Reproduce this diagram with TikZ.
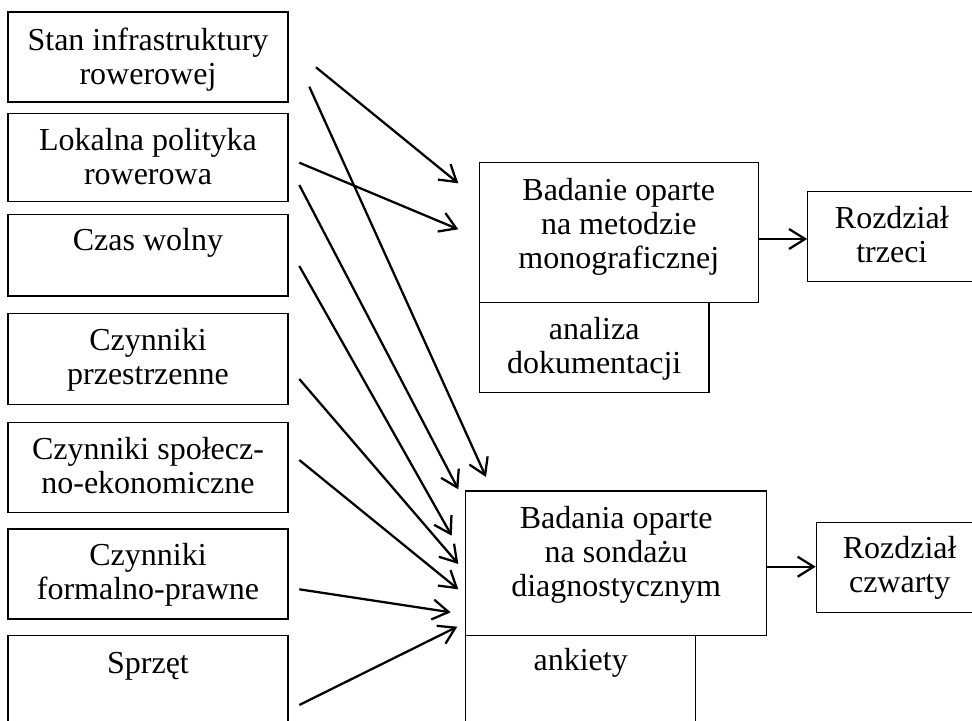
\documentclass[tikz,border=0pt]{standalone}
\usepackage{fontspec}
\setmainfont{Liberation Serif}
\usetikzlibrary{arrows.meta,fit}
\begin{document}
\begin{tikzpicture}[x=0.75pt,y=-0.75pt,
  bx/.style={draw, line width=0.8pt, inner sep=0pt},
  txt/.style={anchor=north, inner sep=0pt, align=center, font=\fontsize{24}{25.5}\selectfont},
  arr/.style={line width=1.7pt, -{Straight Barb[length=12pt,width=15pt]}}]
\useasboundingbox (0,0) rectangle (972,721);
\clip (0,0) rectangle (972,721);
% left boxes
\node[bx, fit={(8,12) (288,102)}] (s1) {};
\node[bx, fit={(8,113.7) (288,201.7)}] (s2) {};
\node[bx, fit={(8,214.7) (288,296)}] (s3) {};
\node[bx, fit={(8,313.7) (288,404.3)}] (s4) {};
\node[bx, fit={(8,422.3) (288,512.7)}] (s5) {};
\node[bx, fit={(8,529) (288,619)}] (s6) {};
\node[bx, fit={(8,635.7) (288,730)}] (s7) {};
\node[txt] (t1) at (148,26.2) {\strut Stan infrastruktury\\rowerowej};
\node[txt] (t2) at (148,126.2) {\strut Lokalna polityka\\rowerowa};
\node[txt] (t3) at (148,226.2) {\strut Czas wolny};
\node[txt] (t4) at (148,326.2) {\strut Czynniki\\przestrzenne};
\node[txt] (t5) at (148,435.4) {\strut Czynniki społecz-\\no-ekonomiczne};
\node[txt] (t6) at (148,541.2) {\strut Czynniki\\formalno-prawne};
\node[txt] (t7) at (148,649.4) {\strut Sprzęt};
% method boxes
\node[bx, fit={(479.3,162.7) (758.3,302.3)}] (M) {};
\node[bx, fit={(479.3,302.3) (709,392.7)}] (MA) {};
\node[bx, fit={(807.7,191.7) (976,281.7)}] (R3) {};
\node[txt] (tm) at (618.8,176.2) {\strut Badanie oparte\\na metodzie\\monograficznej};
\node[txt] (tma) at (594.2,315.2) {\strut analiza\\dokumentacji};
\node[txt] (tr3) at (891.8,204.2) {\strut Rozdział\\trzeci};
\node[bx, fit={(465.7,491) (766.7,635.7)}] (S) {};
\node[bx, fit={(465.7,635.7) (695.7,740)}] (SA) {};
\node[bx, fit={(816.3,522.3) (983,612.3)}] (R4) {};
\node[txt] (ts) at (616.2,504.5) {\strut Badania oparte\\na sondażu\\diagnostycznym};
\node[txt] (tsa) at (580.7,646.2) {\strut ankiety};
\node[txt] (tr4) at (899.7,534.5) {\strut Rozdział\\czwarty};
% arrow end points
\coordinate (s1a) at (316,67.3);
\coordinate (s1b) at (309.3,86.7);
\coordinate (s2a) at (299.3,162.7);
\coordinate (s2b) at (299.3,185);
\coordinate (s3a) at (299.3,266);
\coordinate (s4a) at (299.3,379);
\coordinate (s5a) at (299.3,460);
\coordinate (s6a) at (299.3,589.3);
\coordinate (s7a) at (299.3,705);
\coordinate (m1) at (458.3,183.3);
\coordinate (m2) at (458.3,229.3);
\coordinate (d1) at (486,477);
\coordinate (d2) at (458.3,489.3);
\coordinate (d3) at (451.7,535.7);
\coordinate (d4) at (458.3,564);
\coordinate (d5) at (458.3,589.3);
\coordinate (d6) at (450.7,612.3);
\coordinate (d7) at (457.3,626.7);
\coordinate (r3a) at (0,239);
\coordinate (r4a) at (0,566.7);
\draw[arr] (s1a) -- (m1);
\draw[arr] (s2a) -- (m2);
\draw[arr] (s1b) -- (d1);
\draw[arr] (s2b) -- (d2);
\draw[arr] (s3a) -- (d3);
\draw[arr] (s4a) -- (d4);
\draw[arr] (s5a) -- (d5);
\draw[arr] (s6a) -- (d6);
\draw[arr] (s7a) -- (d7);
\draw[arr] (M.east |- r3a) -- (R3.west |- r3a);
\draw[arr] (S.east |- r4a) -- (R4.west |- r4a);
\end{tikzpicture}
\end{document}
